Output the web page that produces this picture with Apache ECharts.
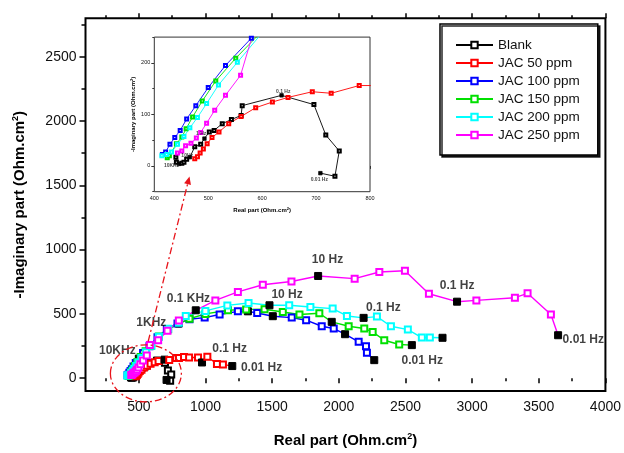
<!DOCTYPE html>
<html>
<head>
<meta charset="utf-8">
<script src="https://cdn.jsdelivr.net/npm/echarts@6/dist/echarts.min.js"></script>
<style>
  html, body { margin: 0; padding: 0; background: #fff; }
  #chart { width: 624px; height: 453px; }
</style>
</head>
<body>
<div id="chart"></div>
<script>
// Series names and colours
const seriesNames = ["Blank", "JAC 50 ppm", "JAC 100 ppm", "JAC 150 ppm", "JAC 200 ppm", "JAC 250 ppm"];
const seriesColors = ["#000000", "#ff0000", "#0000ff", "#00e000", "#00ffff", "#ff00ff"];

// Nyquist data [real, -imaginary] (Ohm.cm2)
const blankData = [[440, 17], [441, 7], [446, 4], [451, 5], [455, 7], [460, 13], [466, 17], [475, 37], [486, 42], [493, 53], [502, 66], [511, 69], [526, 82], [543, 90], [561, 98], [563, 117], [636, 137], [696, 119], [718, 60], [743, 29], [735, -20], [708, -14]];
const jac50Data = [[475, 14], [480, 18], [485, 25], [491, 33], [498, 43], [507, 55], [520, 66], [538, 82], [561, 96], [588, 113], [619, 124], [648, 133], [693, 144], [728, 141], [780, 156], [801, 156], [839, 164], [877, 161], [944, 161], [974, 122], [1014, 166], [1086, 110], [1131, 107], [1201, 94]];
const jac100Data = [[415, 22], [421, 27], [429, 42], [438, 55], [448, 69], [460, 91], [477, 117], [500, 152], [532, 195], [580, 248], [640, 318], [710, 383], [790, 425], [880, 458], [994, 471], [1106, 495], [1243, 520], [1318, 520], [1388, 507], [1505, 482], [1647, 471], [1755, 451], [1872, 404], [1962, 386], [2047, 342], [2149, 283], [2204, 249], [2211, 197], [2266, 140]];
const jac150Data = [[424, 16], [428, 20], [441, 43], [451, 56], [459, 72], [471, 95], [489, 126], [514, 165], [551, 209], [590, 251], [650, 325], [720, 380], [800, 425], [880, 462], [1000, 500], [1169, 528], [1305, 535], [1443, 536], [1580, 515], [1705, 495], [1854, 505], [1947, 438], [2074, 404], [2191, 386], [2254, 360], [2341, 295], [2453, 262], [2548, 257]];
const jac200Data = [[414, 20], [423, 22], [432, 27], [443, 42], [455, 57], [466, 74], [480, 94], [497, 121], [519, 157], [554, 201], [595, 252], [650, 322], [720, 385], [800, 432], [852, 484], [999, 523], [1164, 566], [1323, 585], [1480, 567], [1628, 567], [1787, 554], [1954, 541], [2061, 484], [2186, 469], [2286, 479], [2391, 404], [2518, 378], [2623, 316], [2683, 316], [2778, 314]];
const jac250Data = [[443, 25], [451, 29], [458, 39], [468, 44], [478, 54], [486, 65], [497, 83], [512, 108], [532, 137], [560, 176], [583, 257], [645, 295], [715, 368], [800, 448], [927, 528], [1074, 605], [1243, 671], [1430, 727], [1645, 752], [1845, 795], [2119, 774], [2304, 826], [2496, 836], [2676, 657], [2887, 595], [3032, 605], [3321, 626], [3416, 660], [3591, 495], [3645, 334]];
const allData = [blankData, jac50Data, jac100Data, jac150Data, jac200Data, jac250Data];

// indices of the points drawn as filled black squares (frequency markers)
const blankMarks = [2, 6, 9, 16, 21];
const jac50Marks = [12, 19, 23];
const jac100Marks = [7, 17, 19, 24, 28];
const jac150Marks = [12, 21, 27];
const jac200Marks = [18, 23, 29];
const jac250Marks = [14, 19, 24, 29];
const allMarks = [blankMarks, jac50Marks, jac100Marks, jac150Marks, jac200Marks, jac250Marks];

// frequency annotations [real, -imaginary, text]
const mainFreqLabels = [[339, 215, "10KHz"], [594, 433, "1KHz"], [872, 622, "0.1 KHz"], [1915, 921, "10 Hz"], [1612, 646, "10 Hz"], [1181, 227, "0.1 Hz"], [1421, 84, "0.01 Hz"], [2334, 545, "0.1 Hz"], [2626, 138, "0.01 Hz"], [2888, 719, "0.1 Hz"], [3834, 298, "0.01 Hz"]];
const insetFreqLabels = [[432, 0, "10KHz"], [461, 20, "10Hz"], [487, 62, "1 Hz"], [639, 144, "0.1 Hz"], [706, -26, "0.01 Hz"]];

// tick values
const xMajorTicks = [500, 1000, 1500, 2000, 2500, 3000, 3500, 4000];
const xMinorTicks = [250, 750, 1250, 1750, 2250, 2750, 3250, 3750];
const yMajorTicks = [0, 500, 1000, 1500, 2000, 2500];
const yMinorTicks = [250, 750, 1250, 1750, 2250, 2750];
const insetXMajor = [400, 500, 600, 700, 800];
const insetXMinor = [450, 550, 650, 750];
const insetYMajor = [0, 100, 200];
const insetYMinor = [-50, 50, 150, 250];

const chart = echarts.init(document.getElementById("chart"));

function tickAxis(gridIndex, pos, min, max, ticks, len, labels, labelSize) {
  const ax = {
    type: "value",
    gridIndex: gridIndex,
    position: pos,
    min: min,
    max: max,
    splitLine: { show: false },
    axisLine: { show: false },
    axisTick: { show: true, length: len, inside: false, customValues: ticks, lineStyle: { color: "#000", width: gridIndex === 0 ? 1.5 : 0.8 } },
    axisLabel: { show: false }
  };
  if (labels) {
    ax.axisLabel = {
      show: true,
      customValues: ticks,
      formatter: function (v) { return String(v); },
      color: "#111",
      fontFamily: "Liberation Sans, Arial",
      fontSize: labelSize,
      margin: labelSize > 10 ? 9 : 4
    };
  }
  return ax;
}

const xAxes = [
  tickAxis(0, "bottom", 100, 4000, xMajorTicks, 5, true, 14),
  tickAxis(0, "bottom", 100, 4000, xMinorTicks, 3, false),
  tickAxis(0, "top", 100, 4000, xMajorTicks, 5, false),
  tickAxis(0, "top", 100, 4000, xMinorTicks, 3, false),
  tickAxis(1, "bottom", 400, 800, insetXMajor, 3, true, 5.5),
  tickAxis(1, "bottom", 400, 800, insetXMinor, 2, false)
];
const yAxes = [
  tickAxis(0, "left", -100, 2800, yMajorTicks, 6, true, 14),
  tickAxis(0, "left", -100, 2800, yMinorTicks, 4, false),
  tickAxis(1, "left", -50, 250, insetYMajor, 3, true, 5.5),
  tickAxis(1, "left", -50, 250, insetYMinor, 2, false)
];

function titleStyle(size, supSize, bold, lift) {
  return {
    rich: {
      t: { fontFamily: "Liberation Sans, Arial", fontSize: size, fontWeight: bold ? "bold" : "normal", color: "#000" },
      s: { fontFamily: "Liberation Sans, Arial", fontSize: supSize, fontWeight: bold ? "bold" : "normal", color: "#000", verticalAlign: "top", padding: [0, 0, lift, 0] }
    }
  };
}
const titleText = "{t|Real part (Ohm.cm}{s|2}{t|)}";
const yTitleText = "{t|-Imaginary part (Ohm.cm}{s|2}{t|)}";

Object.assign(xAxes[0], { name: titleText, nameLocation: "middle", nameGap: 41, nameTextStyle: titleStyle(15, 9, true, 8) });
Object.assign(yAxes[0], { name: yTitleText, nameLocation: "middle", nameGap: 57, nameTextStyle: titleStyle(15, 9, true, 8) });
Object.assign(xAxes[4], { name: titleText, nameLocation: "middle", nameGap: 15, nameTextStyle: titleStyle(6, 4, true, 3) });
Object.assign(yAxes[2], { name: yTitleText, nameLocation: "middle", nameGap: 17, nameTextStyle: titleStyle(6, 4, true, 3) });

function buildSeries(i, inset) {
  const marks = allMarks[i];
  const useMarks = !inset || i === 0;
  const data = allData[i].map(function (p, k) {
    if (useMarks && marks.indexOf(k) >= 0) {
      return {
        value: p,
        symbol: "rect",
        symbolSize: inset ? 3.5 : 7,
        itemStyle: { color: "#000", borderColor: "#000" }
      };
    }
    return p;
  });
  return {
    name: seriesNames[i],
    type: "line",
    xAxisIndex: inset ? 4 : 0,
    yAxisIndex: inset ? 2 : 0,
    data: data,
    symbol: "emptyRect",
    symbolSize: inset ? 3 : 6,
    showAllSymbol: true,
    clip: true,
    color: seriesColors[i],
    lineStyle: { width: inset ? 0.9 : 1.4, color: seriesColors[i] },
    itemStyle: { color: seriesColors[i], borderWidth: inset ? 0.7 : 1 },
    emphasis: { disabled: true },
    z: 3
  };
}

const series = [];
for (let i = 0; i < seriesNames.length; i++) series.push(buildSeries(i, false));
for (let i = 0; i < seriesNames.length; i++) series.push(buildSeries(i, true));

function labelSeries(xi, yi, data, size) {
  return {
    type: "scatter",
    xAxisIndex: xi,
    yAxisIndex: yi,
    data: data,
    symbolSize: 0,
    silent: true,
    label: {
      show: true,
      position: "inside",
      formatter: function (p) { return p.data[2]; },
      fontFamily: "Liberation Sans, Arial",
      fontSize: size,
      fontWeight: "bold",
      color: "#111"
    },
    z: 5
  };
}
series.push(labelSeries(0, 0, mainFreqLabels, 12));
series.push(labelSeries(4, 2, insetFreqLabels, 5));

chart.setOption({
  animation: false,
  backgroundColor: "#fff",
  grid: [
    { left: 85.5, top: 18.3, width: 521.2, height: 373.7, show: true, borderColor: "#000", borderWidth: 2, backgroundColor: "transparent" },
    { left: 154.3, top: 37.1, width: 215.7, height: 154.6, show: true, borderColor: "#333", borderWidth: 1, backgroundColor: "#fff", z: 1 }
  ],
  xAxis: xAxes,
  yAxis: yAxes,
  legend: {
    data: seriesNames,
    orient: "vertical",
    left: 440,
    top: 24,
    padding: [14, 18, 13, 15],
    itemWidth: 37,
    itemHeight: 8,
    itemGap: 4,
    borderColor: "#000",
    borderWidth: 1.5,
    backgroundColor: "#fff",
    shadowColor: "rgba(0,0,0,0.85)",
    shadowOffsetX: 2,
    shadowOffsetY: 2,
    shadowBlur: 0,
    selectedMode: false,
    textStyle: { fontFamily: "Liberation Sans, Arial", fontSize: 13.5, lineHeight: 14, color: "#111" }
  },
  series: series
});

// dashed red zoom marker: ellipse round the high-frequency region and an arrow up to the inset
const zoomCentre = [553, 37];
const arrowFrom = [570, 285];
const arrowTo = [880, 1570];
const c = chart.convertToPixel({ xAxisIndex: 0, yAxisIndex: 0 }, zoomCentre);
const a0 = chart.convertToPixel({ xAxisIndex: 0, yAxisIndex: 0 }, arrowFrom);
const a1 = chart.convertToPixel({ xAxisIndex: 0, yAxisIndex: 0 }, arrowTo);
const dx = a1[0] - a0[0], dy = a1[1] - a0[1];
const len = Math.sqrt(dx * dx + dy * dy);
const ux = dx / len, uy = dy / len;
const head = [
  [a1[0], a1[1]],
  [a1[0] - ux * 8 - uy * 3.5, a1[1] - uy * 8 + ux * 3.5],
  [a1[0] - ux * 8 + uy * 3.5, a1[1] - uy * 8 - ux * 3.5]
];
const dashRed = { stroke: "#e8141b", lineWidth: 1.3, lineDash: [7, 3, 2, 3], fill: null };
chart.setOption({
  graphic: [
    { type: "ellipse", shape: { cx: c[0], cy: c[1], rx: 35.5, ry: 28.5 }, style: dashRed, z: 10, silent: true },
    { type: "line", shape: { x1: a0[0], y1: a0[1], x2: a1[0] - ux * 6, y2: a1[1] - uy * 6 }, style: dashRed, z: 10, silent: true },
    { type: "polygon", shape: { points: head }, style: { fill: "#e8141b" }, z: 10, silent: true }
  ]
});
</script>
</body>
</html>
